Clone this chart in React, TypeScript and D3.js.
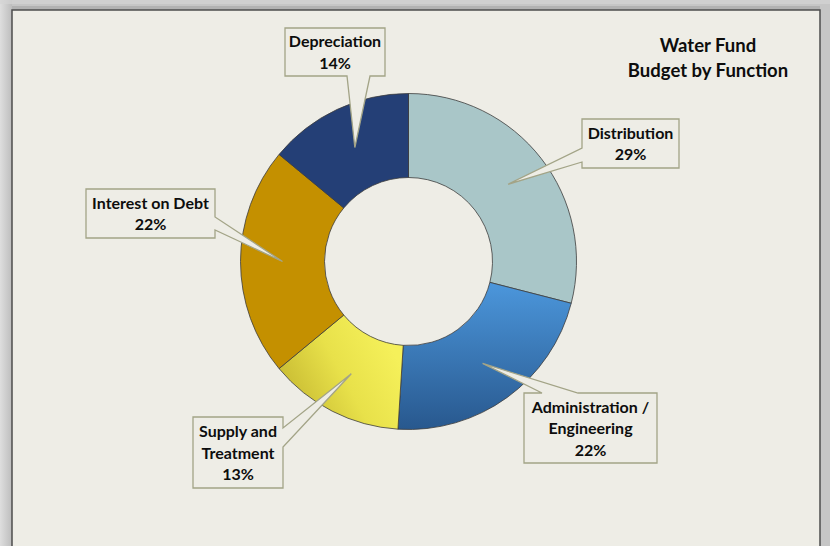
import React from 'react';
import * as d3 from 'd3';

const categories = ['Distribution', 'Administration / Engineering', 'Supply and Treatment', 'Interest on Debt', 'Depreciation'];
const values = [29, 22, 13, 22, 14];
const labelNameLines = [['Distribution'], ['Administration /', 'Engineering'], ['Supply and', 'Treatment'], ['Interest on Debt'], ['Depreciation']];
const titleLines = ['Water Fund', 'Budget by Function'];

// layout / styling (not data)
const W = 830, H = 546;
const CX = 408.5, CY = 261.5, R_OUT = 168, R_IN = 84;
const FILLS = ['#A9C6C8', 'url(#gAdmin)', 'url(#gSupply)', '#C49000', '#243F76'];
type Box = { x: number; y: number; w: number; h: number; side: 'top' | 'right' | 'bottom' | 'left'; a: number; b: number };
const BOXES: Box[] = [
  { x: 582, y: 119, w: 97, h: 49, side: 'left', a: 148, b: 162 },
  { x: 524, y: 393, w: 133, h: 70, side: 'top', a: 542, b: 578 },
  { x: 193, y: 417, w: 90, h: 71, side: 'right', a: 428, b: 447 },
  { x: 86, y: 189, w: 129, h: 49, side: 'right', a: 217, b: 230 },
  { x: 285, y: 28, w: 100, h: 48, side: 'bottom', a: 347, b: 370 },
];
const FONT = 'Lato, "Open Sans", sans-serif';

function calloutPath(bx: Box, tip: [number, number]) {
  const { x, y, w, h, side, a, b } = bx;
  const p = d3.path();
  p.moveTo(x, y);
  if (side === 'top') { p.lineTo(a, y); p.lineTo(tip[0], tip[1]); p.lineTo(b, y); }
  p.lineTo(x + w, y);
  if (side === 'right') { p.lineTo(x + w, a); p.lineTo(tip[0], tip[1]); p.lineTo(x + w, b); }
  p.lineTo(x + w, y + h);
  if (side === 'bottom') { p.lineTo(b, y + h); p.lineTo(tip[0], tip[1]); p.lineTo(a, y + h); }
  p.lineTo(x, y + h);
  if (side === 'left') { p.lineTo(x, b); p.lineTo(tip[0], tip[1]); p.lineTo(x, a); }
  p.closePath();
  return p.toString();
}

export default function App() {
  const pie = d3.pie<number>().sort(null).startAngle(0).endAngle(2 * Math.PI);
  const arcs = pie(values);
  const arc = d3.arc<d3.PieArcDatum<number>>().innerRadius(R_IN).outerRadius(R_OUT);
  const lineH = 21.5;

  return (
    <div style={{ position: 'absolute', left: 0, top: 0 }}>
      <svg width={W} height={H} xmlns="http://www.w3.org/2000/svg">
        <defs>
          <linearGradient id="gAdmin" gradientUnits="userSpaceOnUse" x1="0" y1={20} x2="0" y2={R_OUT}>
            <stop offset="0" stopColor="#4C97DC" />
            <stop offset="1" stopColor="#28588E" />
          </linearGradient>
          <linearGradient id="gSupply" gradientUnits="userSpaceOnUse" x1={-125} y1={150} x2={-15} y2={90}>
            <stop offset="0" stopColor="#C2B42E" />
            <stop offset="0.55" stopColor="#E8E14A" />
            <stop offset="1" stopColor="#F5F05A" />
          </linearGradient>
          <linearGradient id="gFrameL" x1="0" y1="0" x2="1" y2="0">
            <stop offset="0" stopColor="#dedede" />
            <stop offset="1" stopColor="#bdbdbd" />
          </linearGradient>
        </defs>
        <rect x={0} y={0} width={W} height={H} fill="#c6c6c6" />
        <rect x={0} y={0} width={12} height={H} fill="url(#gFrameL)" />
        <rect x={0} y={0} width={W} height={4} fill="#d4d4d4" opacity={0.7} />
        <rect x={12} y={6} width={808} height={H} fill="#b2b2b2" />
        <rect x={12} y={10} width={808} height={H + 10} fill="#EEEDE6" stroke="#4d4d4d" strokeWidth={1.5} />

        <g transform={`translate(${CX},${CY})`}>
          {arcs.map((d, i) => (
            <path key={categories[i]} d={arc(d) || ''} fill={FILLS[i]} stroke="#3c3c3c" strokeWidth={0.8} />
          ))}
        </g>

        {arcs.map((d, i) => {
          const c = arc.centroid(d);
          const tip: [number, number] = [CX + c[0], CY + c[1]];
          const bx = BOXES[i];
          const lines = [...labelNameLines[i], `${values[i]}%`];
          const firstY = bx.y + bx.h / 2 - ((lines.length - 1) * lineH) / 2 + 6;
          return (
            <g key={'lab' + i}>
              <path d={calloutPath(bx, tip)} fill="#EEEDE6" stroke="#A3A487" strokeWidth={1.3} />
              {lines.map((t, j) => (
                <text key={j} x={bx.x + bx.w / 2} y={firstY + j * lineH} textAnchor="middle"
                  fontFamily={FONT} fontWeight={700} fontSize={16} fill="#0d0d0d">{t}</text>
              ))}
            </g>
          );
        })}

        {titleLines.map((t, j) => (
          <text key={t} x={708} y={52 + j * 25} textAnchor="middle" fontFamily={FONT} fontWeight={700} fontSize={18.5} fill="#0d0d0d">{t}</text>
        ))}
      </svg>
    </div>
  );
}
